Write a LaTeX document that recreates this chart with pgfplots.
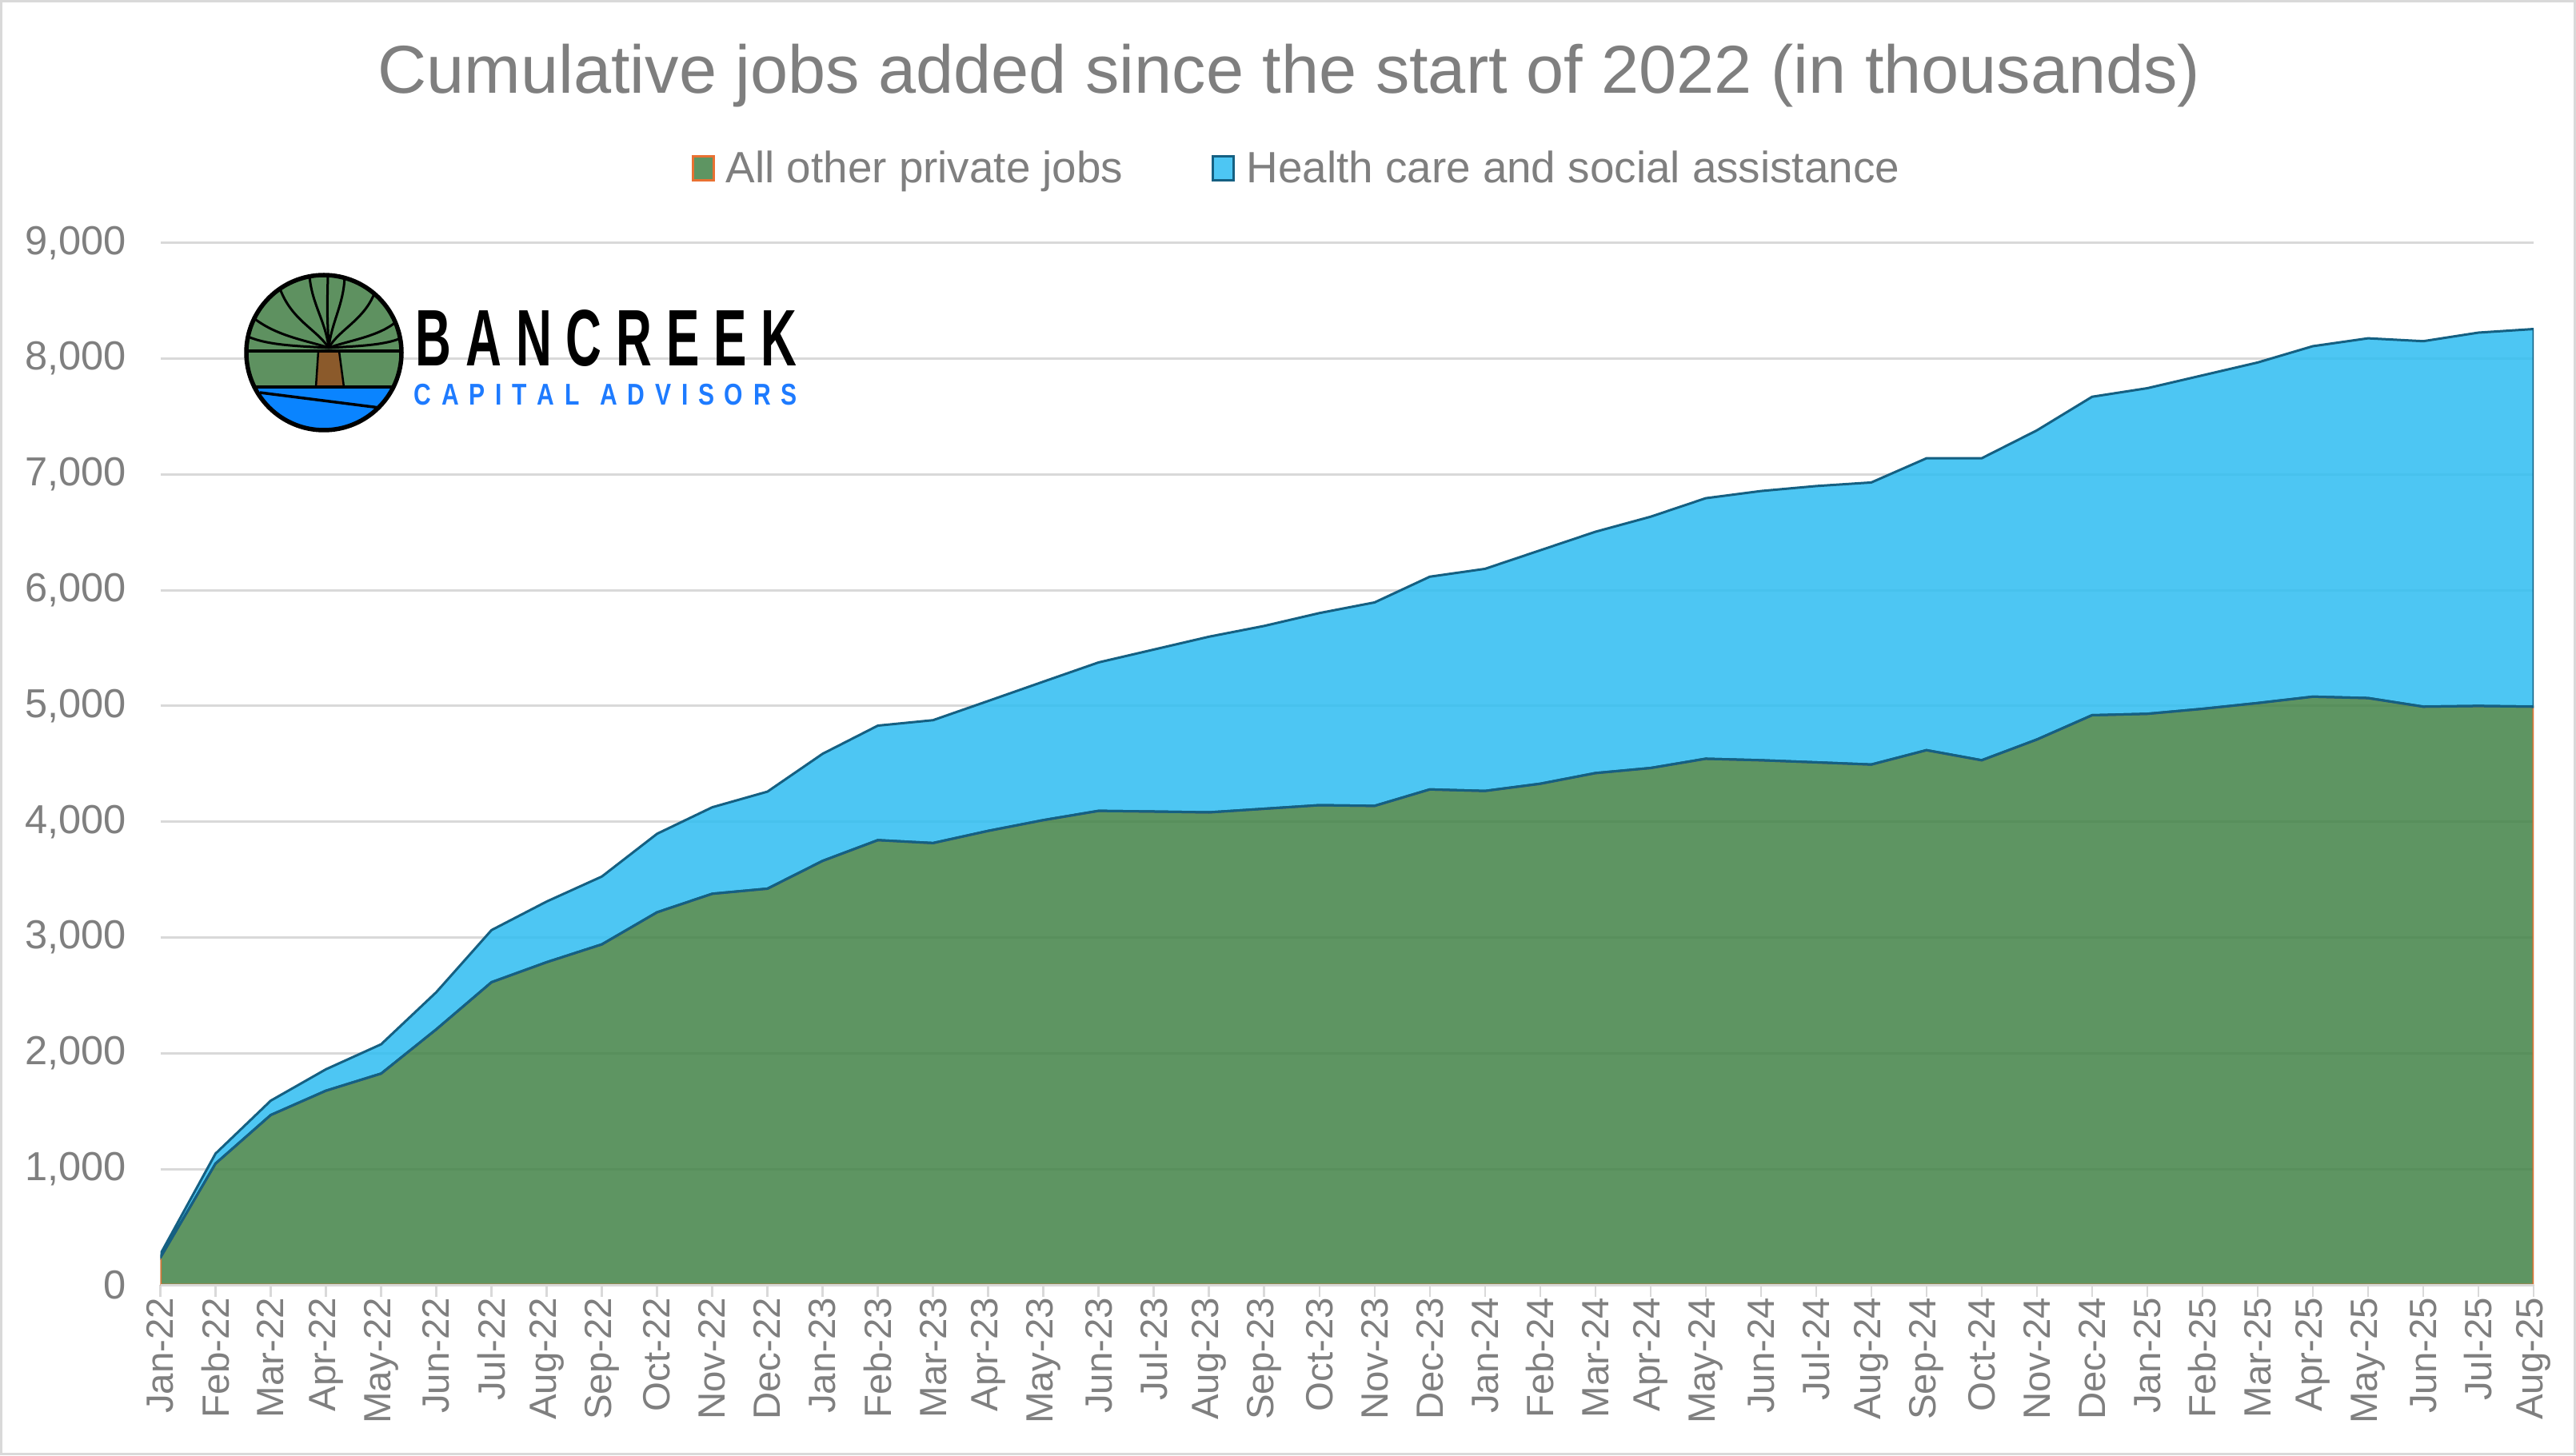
\documentclass[border=0pt]{standalone}
\usepackage{fontspec}
\setmainfont{Liberation Sans}
\usepackage{graphicx}
\usepackage{pgfplots}
\usepackage{pgfplotstable}
\pgfplotsset{compat=1.18}
\definecolor{gridgray}{HTML}{D9D9D9}
\definecolor{txtgray}{HTML}{7F7F7F}
\definecolor{greenfill}{RGB}{66,131,71}
\definecolor{bluefill}{RGB}{46,189,241}
\definecolor{edgeblue}{HTML}{156082}
\definecolor{edgeorange}{HTML}{E97132}
\definecolor{logogreen}{HTML}{5E9160}
\definecolor{logoblue}{HTML}{0A84FF}
\definecolor{trunk}{HTML}{8B5A2B}
\definecolor{capblue}{HTML}{1E7BFF}
\newcommand\LB[1]{\scalebox{0.62}[1]{#1}}
\newcommand\LC[1]{\scalebox{0.8}[1]{#1}}

\pgfplotstableread{
x other health
0 235 30
1 1048 86
2 1467 124
3 1677 185
4 1825 253
5 2207 321
6 2614 450
7 2787 524
8 2941 586
9 3218 678
10 3378 747
11 3422 838
12 3662 925
13 3841 989
14 3816 1061
15 3921 1122
16 4014 1196
17 4094 1282
18 4088 1399
19 4081 1517
20 4112 1579
21 4143 1659
22 4137 1757
23 4279 1837
24 4266 1918
25 4328 2016
26 4420 2084
27 4464 2170
28 4544 2250
29 4531 2325
30 4513 2386
31 4494 2436
32 4618 2521
33 4531 2608
34 4710 2670
35 4920 2750
36 4932 2812
37 4975 2880
38 5025 2941
39 5080 3027
40 5068 3107
41 4994 3156
42 5000 3224
43 4994 3261
}\jobs

\begin{document}
\begin{tikzpicture}
\useasboundingbox (0,0) rectangle (322.1mm,182mm);
\fill[white] (0,0) rectangle (322.1mm,182mm);
\draw[gridgray, line width=0.3mm] (0.15mm,0.15mm) rectangle (321.95mm,181.85mm);

\begin{axis}[
  at={(20.05mm,21.3mm)}, anchor=south west,
  scale only axis, width=296.75mm, height=130.34mm,
  xmin=0, xmax=43, ymin=0, ymax=9000,
  axis line style={draw=none},
  ymajorgrids, grid style={draw=gridgray, line width=0.3mm},
  ytick={0,1000,...,9000},
  ytick style={draw=none},
  /pgf/number format/assume math mode=true,
  /pgf/number format/fixed,
  /pgf/number format/1000 sep={,},
  yticklabel style={font=\fontsize{14.4}{16}\selectfont, text=txtgray, anchor=east, inner sep=0pt, xshift=-2.7mm},
  xtick={0,...,43},
  xticklabels={Jan-22,Feb-22,Mar-22,Apr-22,May-22,Jun-22,Jul-22,Aug-22,Sep-22,Oct-22,Nov-22,Dec-22,
    Jan-23,Feb-23,Mar-23,Apr-23,May-23,Jun-23,Jul-23,Aug-23,Sep-23,Oct-23,Nov-23,Dec-23,
    Jan-24,Feb-24,Mar-24,Apr-24,May-24,Jun-24,Jul-24,Aug-24,Sep-24,Oct-24,Nov-24,Dec-24,
    Jan-25,Feb-25,Mar-25,Apr-25,May-25,Jun-25,Jul-25,Aug-25},
  xticklabel style={font=\fontsize{13.5}{15}\selectfont, text=txtgray, rotate=90, anchor=east, inner sep=0pt},
  xtick style={draw=gridgray, line width=0.25mm},
  tick align=outside, major tick length=1.5mm,
  xtick pos=bottom,
  legend columns=2,
  legend style={at={(0.2236,1.0711)}, anchor=west, draw=none, fill=none,
    font=\fontsize{15.6}{17}\selectfont, text=txtgray, inner sep=0pt,
    nodes={inner sep=0pt},
    /tikz/every odd column/.append style={column sep=1.4mm},
    /tikz/every even column/.append style={column sep=11.1mm}},
  legend image code/.code={\draw[#1, line width=0.3mm] (0mm,-1.5mm) rectangle (2.6mm,1.5mm);},
]
\addplot[stack plots=y, fill=greenfill, fill opacity=0.85, draw=edgeorange, line width=0.3mm] table[x=x,y=other]{\jobs} \closedcycle;
\addplot[stack plots=y, fill=bluefill, fill opacity=0.85, draw=edgeblue, line width=0.3mm] table[x=x,y=health]{\jobs} \closedcycle;
% lower border of the health-care band
\addplot[stack plots=false, draw=edgeblue, line width=0.3mm, forget plot] table[x=x,y=other]{\jobs};
\legend{All other private jobs, Health care and social assistance}
\draw[gridgray, line width=0.3mm] (axis cs:0,0) -- (axis cs:43,0);
\end{axis}

\node[anchor=base, font=\fontsize{24.1}{28}\selectfont, text=txtgray, inner sep=0pt] at (161.2mm,170.35mm) {Cumulative jobs added since the start of 2022 (in thousands)};

% logo
\begin{scope}[shift={(40.5mm,137.9mm)}]
 \begin{scope}
  \clip (0,0) circle (9.7mm);
  \fill[logogreen] (-9.7mm,-9.7mm) rectangle (9.7mm,9.7mm);
  \fill[logoblue] (-9.7mm,-4.3mm) rectangle (9.7mm,-9.7mm);
  \fill[trunk] (-0.7mm,0.2mm) -- (1.9mm,0.2mm) -- (2.5mm,-4.3mm) -- (-1.0mm,-4.3mm) -- cycle;
  \draw[black, line width=0.25mm] (-0.7mm,0.2mm) -- (-1.0mm,-4.3mm) (1.9mm,0.2mm) -- (2.5mm,-4.3mm);
  \draw[black, line width=0.35mm] (-9.7mm,0.2mm) -- (9.7mm,0.2mm);
  \draw[black, line width=0.35mm] (-9.7mm,-4.3mm) -- (9.7mm,-4.3mm);
  \draw[black, line width=0.35mm] (-8mm,-5.0mm) -- (7mm,-6.9mm);
  \begin{scope}[black, line width=0.3mm]
   \draw (0.6mm,0.6mm) .. controls (0.2mm,4mm) and (-1.5mm,6mm) .. (-1.8mm,9.6mm);
   \draw (0.6mm,0.6mm) .. controls (1.0mm,4mm) and (2.5mm,6mm) .. (2.6mm,9.6mm);
   \draw (0.6mm,0.6mm) .. controls (0.4mm,5mm) .. (0.5mm,9.8mm);
   \draw (0.6mm,0.6mm) .. controls (-1mm,3mm) and (-4mm,4mm) .. (-5.5mm,8mm);
   \draw (0.6mm,0.6mm) .. controls (2mm,3mm) and (5mm,4mm) .. (6.4mm,7.6mm);
   \draw (0.6mm,0.6mm) .. controls (-2mm,1.5mm) and (-6mm,2mm) .. (-9mm,4.5mm);
   \draw (0.6mm,0.6mm) .. controls (3mm,1.5mm) and (7mm,2mm) .. (9.2mm,4mm);
   \draw (0.6mm,0.6mm) .. controls (-3mm,0.8mm) and (-7mm,0.9mm) .. (-9.5mm,2mm);
   \draw (0.6mm,0.6mm) .. controls (4mm,0.8mm) and (7.5mm,0.9mm) .. (9.6mm,1.8mm);
  \end{scope}
 \end{scope}
 \draw[black, line width=0.55mm] (0,0) circle (9.7mm);
\end{scope}
\node[anchor=base west, inner sep=0pt, font=\fontsize{28.5}{30}\selectfont\bfseries] at (51.9mm,136.2mm)
  {\makebox[47.7mm][s]{\LB{B}\hfil\LB{A}\hfil\LB{N}\hfil\LB{C}\hfil\LB{R}\hfil\LB{E}\hfil\LB{E}\hfil\LB{K}}};
\node[anchor=base west, inner sep=0pt, text=capblue, font=\fontsize{10.7}{12}\selectfont\bfseries] at (51.7mm,131.3mm)
  {\makebox[47.9mm][s]{\LC{C}\hfil\LC{A}\hfil\LC{P}\hfil\LC{I}\hfil\LC{T}\hfil\LC{A}\hfil\LC{L}\hfil\hfil\LC{A}\hfil\LC{D}\hfil\LC{V}\hfil\LC{I}\hfil\LC{S}\hfil\LC{O}\hfil\LC{R}\hfil\LC{S}}};
\end{tikzpicture}
\end{document}
